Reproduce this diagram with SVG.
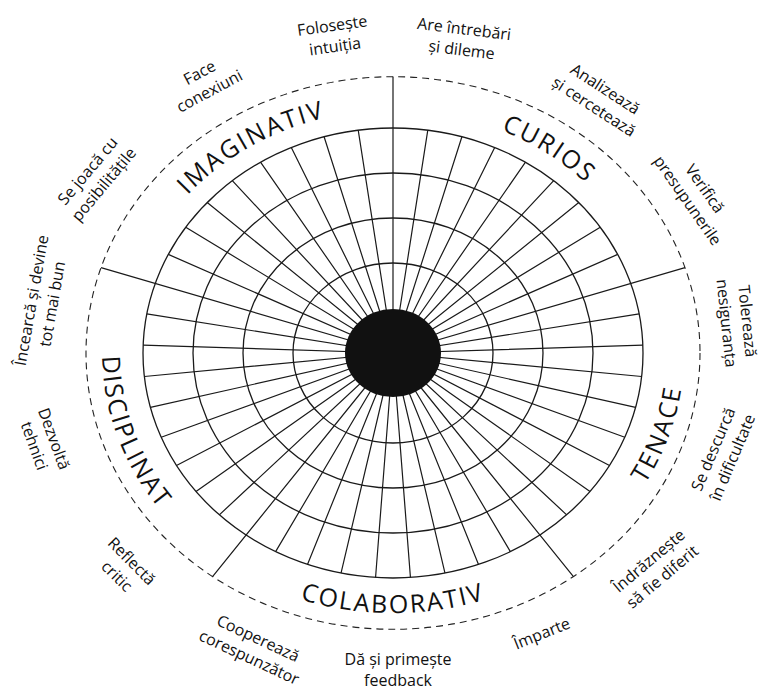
<svg xmlns="http://www.w3.org/2000/svg" width="763" height="691" viewBox="0 0 763 691">
<style>
.ring{fill:none;stroke:#1a1a1a;stroke-width:1.3}
.spk{fill:none;stroke:#1a1a1a;stroke-width:1.2}
.dash{fill:none;stroke:#222;stroke-width:1.1;stroke-dasharray:7 5}
.cat{font-family:"Open Sans","Noto Sans",sans-serif;font-size:25px;letter-spacing:2px;fill:#111;text-anchor:middle}
.lbl{font-family:"Open Sans","Noto Sans",sans-serif;font-size:16px;fill:#111;text-anchor:middle}
</style>
<defs>
<path id="pImag" d="M129.9 298.3 A270 243 0 0 1 444.5 114.5"/>
<path id="pCur" d="M355.4 112.4 A270 243 0 0 1 658.9 310.8"/>
<path id="pTen" d="M529.6 584.2 A291 261.9 0 0 0 654.5 238.2"/>
<path id="pCol" d="M192.2 540.1 A289 260.1 0 0 0 593.8 540.1"/>
<path id="pDis" d="M131.5 238.2 A291 261.9 0 0 0 256.4 584.2"/>
</defs>
<rect width="763" height="691" fill="#fff"/>
<g id="wheel">
<ellipse class="dash" cx="393" cy="353" rx="307" ry="276.3"/>
<path id="spokes" class="spk" d="M393 353L427.79 130.19M393 353L461.91 136.72M393 353L494.69 147.45M393 353L525.48 162.19M393 353L553.70 180.64M393 353L578.79 202.45M393 353L600.26 227.18M393 353L617.70 254.37M393 353L639.20 313.93M393 353L642.85 345.15M393 353L641.63 376.52M393 353L635.58 407.43M393 353L624.80 437.29M393 353L609.51 465.5M393 353L590.00 491.52M393 353L566.67 514.85M393 353L510.37 551.66M393 353L478.51 564.43M393 353L444.98 573.08M393 353L410.44 577.45M393 353L375.56 577.45M393 353L341.02 573.08M393 353L307.49 564.43M393 353L275.63 551.66M393 353L219.33 514.85M393 353L196.00 491.52M393 353L176.49 465.5M393 353L161.20 437.29M393 353L150.42 407.43M393 353L144.37 376.52M393 353L143.15 345.15M393 353L146.80 313.93M393 353L168.30 254.37M393 353L185.74 227.18M393 353L207.21 202.45M393 353L232.30 180.64M393 353L260.52 162.19M393 353L291.31 147.45M393 353L324.09 136.72M393 353L358.21 130.19"/>
<path id="dividers" class="spk" d="M393 353L393 76.7M393 353L684.98 267.62M393 353L573.45 576.53M393 353L212.55 576.53M393 353L101.02 267.62"/>
<ellipse class="ring" cx="393" cy="353" rx="100" ry="90"/>
<ellipse class="ring" cx="393" cy="353" rx="150" ry="135"/>
<ellipse class="ring" cx="393" cy="353" rx="200" ry="180"/>
<ellipse class="ring" cx="393" cy="353" rx="250" ry="225"/>
<ellipse cx="393" cy="353" rx="48" ry="44" fill="#111"/>
</g>
<g id="categories">
<text id="imaginativ" class="cat"><textPath href="#pImag" startOffset="50%">IMAGINATIV</textPath></text>
<text id="curios" class="cat"><textPath href="#pCur" startOffset="50%">CURIOS</textPath></text>
<text id="tenace" class="cat"><textPath href="#pTen" startOffset="50%">TENACE</textPath></text>
<text id="colaborativ" class="cat"><textPath href="#pCol" startOffset="50%">COLABORATIV</textPath></text>
<text id="disciplinat" class="cat"><textPath href="#pDis" startOffset="50%">DISCIPLINAT</textPath></text>
</g>
<g id="labels">
<text class="lbl" transform="translate(333.5 35) rotate(-8)"><tspan x="0" y="-4">Folosește</tspan><tspan x="0" y="17">intuiția</tspan></text>
<text class="lbl" transform="translate(463 38.5) rotate(7)"><tspan x="0" y="-4">Are întrebări</tspan><tspan x="0" y="17">și dileme</tspan></text>
<text class="lbl" transform="translate(600 97) rotate(33)"><tspan x="0" y="-4">Analizează</tspan><tspan x="0" y="17">și cercetează</tspan></text>
<text class="lbl" transform="translate(697 194) rotate(55)"><tspan x="0" y="-4">Verifică</tspan><tspan x="0" y="17">presupunerile</tspan></text>
<text class="lbl" transform="translate(738 322) rotate(84)"><tspan x="0" y="-4">Tolerează</tspan><tspan x="0" y="17">nesiguranța</tspan></text>
<text class="lbl" transform="translate(722 453) rotate(-67)"><tspan x="0" y="-4">Se descurcă</tspan><tspan x="0" y="17">în dificultate</tspan></text>
<text class="lbl" transform="translate(655 568) rotate(-40)"><tspan x="0" y="-4">Îndrăznește</tspan><tspan x="0" y="17">să fie diferit</tspan></text>
<text class="lbl" transform="translate(542 634) rotate(-22)"><tspan x="0" y="5">Împarte</tspan></text>
<text class="lbl" transform="translate(398 669)"><tspan x="0" y="-4">Dă și primește</tspan><tspan x="0" y="17">feedback</tspan></text>
<text class="lbl" transform="translate(254 647) rotate(25)"><tspan x="0" y="-4">Cooperează</tspan><tspan x="0" y="17">corespunzător</tspan></text>
<text class="lbl" transform="translate(125 568) rotate(45)"><tspan x="0" y="-4">Reflectă</tspan><tspan x="0" y="17">critic</tspan></text>
<text class="lbl" transform="translate(45 442) rotate(70)"><tspan x="0" y="-4">Dezvoltă</tspan><tspan x="0" y="17">tehnici</tspan></text>
<text class="lbl" transform="translate(41 302) rotate(-80)"><tspan x="0" y="-4">Încearcă și devine</tspan><tspan x="0" y="17">tot mai bun</tspan></text>
<text class="lbl" transform="translate(95 177) rotate(-50)"><tspan x="0" y="-4">Se joacă cu</tspan><tspan x="0" y="17">posibilitățile</tspan></text>
<text class="lbl" transform="translate(204 81) rotate(-28)"><tspan x="0" y="-4">Face</tspan><tspan x="0" y="17">conexiuni</tspan></text>
</g>
</svg>
